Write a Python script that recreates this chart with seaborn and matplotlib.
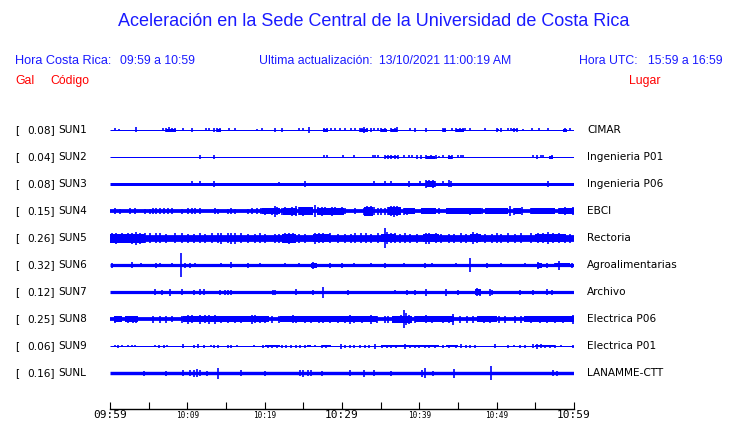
import matplotlib
matplotlib.use("Agg")
import matplotlib.pyplot as plt
import seaborn as sns
import pandas as pd

# ---------------- data ----------------
title = "Aceleración en la Sede Central de la Universidad de Costa Rica"
codes = ["SUN1", "SUN2", "SUN3", "SUN4", "SUN5", "SUN6", "SUN7", "SUN8", "SUN9", "SUNL"]
gals = ["0.08", "0.04", "0.08", "0.15", "0.26", "0.32", "0.12", "0.25", "0.06", "0.16"]
places = ["CIMAR", "Ingenieria P01", "Ingenieria P06", "EBCI", "Rectoria",
          "Agroalimentarias", "Archivo", "Electrica P06", "Electrica P01", "LANAMME-CTT"]
tick_minutes = [0, 5, 10, 15, 20, 25, 30, 35, 40, 45, 50, 55, 60]
tick_labels = ["09:59", "", "10:09", "", "10:19", "", "10:29", "", "10:39", "", "10:49", "", "10:59"]
big_labels = ["09:59", "10:29", "10:59"]

# base half-thickness of each trace (px)
base_amp = [0.5, 0.5, 1.5, 1.9, 3.4, 1.6, 1.6, 1.9, 0.5, 1.7]

# spikes: (minute, half amplitude px)
spikes_sun1 = [(0.7,1.5),(1.2,1),(3.4,2.5),(6.8,1.5),(7.3,2),(7.6,2.5),(8.0,2),(8.4,2),(9.5,1.5),(10.6,2),(12.4,1.5),(12.8,1.5),(13.4,2),(13.9,2),(14.2,2),(15.4,1.5),(16.2,1.5),(19.0,1),(19.7,1.5),(21.3,2),(22.2,2),(24.5,1.5),(25.0,1.5),(25.7,3),(27.7,2),(28.1,2),(28.6,1.5),(29.1,1.5),(29.7,1.5),(30.4,1.5),(31.1,1.5),(31.7,1.5),(32.3,2),(32.6,2),(32.9,3),(33.2,2),(33.7,2),(34.1,1.5),(34.7,1.5),(35.1,2),(35.5,2),(36.4,2),(36.8,2),(37.1,2.5),(38.8,1.5),(39.4,2),(40.9,2),(43.1,2),(43.3,2),(44.2,1.5),(44.8,2),(45.2,2),(45.6,2),(45.9,1.5),(46.5,1.5),(48.5,1.5),(50.0,2),(50.6,2),(51.5,1.5),(51.9,1.5),(52.2,2),(52.6,2),(53.4,1),(54.6,1.5),(55.5,1.5),(56.7,1.5),(58.8,2),(59.5,1.5)]
spikes_sun2 = [(11.6,2),(13.4,2),(27.7,1.5),(28.1,1.5),(30.1,1.5),(31.5,1.5),(34.0,1.5),(34.3,1.5),(34.6,1.5),(35.6,2),(36.0,2),(36.4,2),(36.9,2),(37.3,2),(38.0,1.5),(38.7,1.5),(39.0,1.5),(39.7,2),(40.2,2),(40.9,2),(41.5,2),(42.1,2),(42.5,1),(43.1,1.5),(43.8,2),(44.2,2),(45.0,1.5),(45.4,1.5),(45.7,1.5),(54.7,1.5),(55.2,2),(55.7,1.5),(56.0,1.5),(57.1,2)]
spikes_sun3 = [(10.6,2.5),(11.6,2.5),(13.4,3),(21.9,2.2),(25.2,3),(34.2,2.5),(35.6,2.5),(36.4,2.5),(38.7,3),(40.1,2.5),(40.9,4),(41.3,3.5),(41.8,4),(42.0,3),(43.1,2.5),(43.8,3.5),(44.1,3),(56.6,3)]
spikes_sun4 = [(0.6,3),(1.3,2.5),(2.6,3),(3.2,3),(4.5,2.5),(5.2,2.5),(5.6,3),(6.0,3),(6.5,3),(7.0,3),(7.5,3),(8.0,3),(9.3,2.5),(10.1,3),(10.6,3),(11.0,3),(11.6,3),(13.6,3),(14.0,2.5),(15.3,2.5),(15.7,3),(16.2,2.5),(17.9,2.5),(18.3,3),(19.0,3),(19.5,3),(20.0,3.5),(20.5,3),(20.9,3.5),(21.3,5.5),(21.6,4),(22.2,3.5),(22.6,4),(23.1,3.5),(23.5,4.5),(24.0,5),(24.5,4),(25.0,4.5),(25.4,4),(25.9,3.5),(26.5,6),(26.9,4),(27.4,4.5),(27.8,4),(28.4,3.5),(28.7,4.5),(29.1,4),(29.5,3.5),(30.0,4),(30.4,3),(31.7,3),(32.8,3.5),(33.2,5),(33.5,4.5),(33.8,5),(34.2,4),(34.7,3.5),(35.1,3.5),(35.5,3.5),(36.0,4),(36.4,5),(36.7,5.5),(37.1,5),(37.5,4),(38.0,3.5),(38.4,3.5),(38.8,3),(40.3,2.5),(40.9,3),(41.5,3),(42.0,3),(42.5,3),(44.2,3),(44.8,3),(45.4,3),(45.9,3),(46.5,3.5),(47.0,3),(48.1,3),(48.7,3),(49.4,3),(50.0,3),(50.6,3),(51.1,3),(51.7,5),(52.2,3.5),(52.8,3),(53.3,4),(54.5,3),(55.2,3),(55.7,3),(56.5,3),(57.3,3),(58.0,3),(58.8,4),(59.5,3),(59.9,4)]
spikes_sun5 = [(0.2,5),(0.8,5.5),(1.5,5),(2.3,5),(2.9,5.5),(3.4,6.5),(3.9,5.5),(4.5,5),(5.2,5),(6.0,5),(6.5,5),(7.3,4.5),(8.4,5),(9.3,5),(10.1,4.5),(10.8,4.5),(11.6,5),(12.3,4.5),(13.2,5),(14.0,5),(14.4,5.5),(15.3,5),(15.7,5.5),(16.2,5.5),(17.0,5),(17.9,4.5),(18.8,4.5),(19.4,5),(20.0,4.5),(21.3,4.5),(21.9,4.5),(22.6,5),(23.1,5.5),(23.6,5),(24.5,4.5),(25.2,4.5),(26.5,5.5),(27.0,5),(27.6,5),(28.4,5),(29.5,4.5),(30.4,4.5),(31.1,4.5),(31.7,5),(32.5,5),(33.1,5),(33.8,4.5),(34.6,5),(35.5,10),(35.8,6),(36.4,5),(36.9,5),(37.5,4.5),(38.1,5),(38.8,4.5),(39.7,4.5),(40.9,5.5),(41.2,5.5),(42.1,5),(42.8,4.5),(43.8,4.5),(44.5,4.5),(45.4,5),(46.0,4.5),(47.0,6),(47.5,5),(48.5,4.5),(49.4,4.5),(50.0,5),(50.6,4.5),(51.5,5),(52.4,4.5),(53.2,5),(54.5,5),(55.3,5),(56.0,5),(56.7,6),(57.3,5),(58.0,5),(58.8,4.5),(59.5,4.5)]
spikes_sun6 = [(0.2,2.5),(2.8,3),(4.0,2),(6.0,2.5),(6.5,2),(8.0,2),(9.2,11.7),(9.7,2.5),(10.4,2.5),(11.0,2),(14.4,2),(15.7,3),(17.9,2.5),(19.4,2),(22.6,2),(24.5,2),(26.3,3.5),(28.4,2.5),(30.0,2.5),(31.5,2),(33.7,2),(35.6,2.5),(38.0,2),(40.7,2.5),(41.6,2),(44.8,2),(46.6,6.7),(48.7,2.5),(50.6,2),(53.6,2),(55.4,3.5),(56.5,2.5),(57.5,2),(58.0,4.5),(59.7,2.5)]
spikes_sun7 = [(5.8,3),(6.7,2.5),(7.8,3.5),(9.3,3),(10.8,2.5),(11.6,3),(12.1,3),(14.2,2.5),(14.9,2.5),(15.3,2.5),(15.7,2.5),(21.1,2.5),(21.4,2.5),(24.0,3),(26.3,2.5),(27.6,5.5),(30.8,2.5),(36.9,2),(38.4,2.5),(39.4,2.5),(40.8,3.5),(43.4,3.5),(45.0,2.5),(47.4,4),(47.8,3.5),(49.1,3.5),(49.4,2.5),(53.0,2.5),(54.7,2.5),(56.5,3),(57.1,2.5)]
spikes_sun8 = [(0.6,3.5),(1.3,3),(2.3,3.5),(3.0,3.5),(3.4,3.5),(5.6,3.5),(6.5,3.5),(7.3,3.5),(8.0,3),(9.3,3.5),(10.1,4.5),(10.6,4),(11.6,4.5),(12.3,4),(12.8,4.5),(13.6,4.5),(14.4,3.5),(15.3,3.5),(16.2,3.5),(17.0,3.5),(18.3,4.5),(18.8,4),(19.4,3.5),(20.0,3.5),(20.9,3.5),(21.8,3.5),(23.6,4),(24.0,3.5),(25.2,3.5),(26.0,3.5),(27.0,3.5),(27.6,3.5),(28.4,3.5),(29.5,3.5),(30.4,3.5),(31.0,4.5),(31.5,3.5),(32.6,3.5),(33.8,4.5),(34.5,3.5),(35.5,3.5),(36.0,3.5),(36.9,3.5),(37.6,4),(38.0,9.3),(38.3,6),(38.7,4.5),(39.4,3.5),(40.9,4),(41.6,3.5),(43.1,3.5),(43.8,3.5),(44.4,5.5),(45.2,3.5),(46.2,3.5),(47.0,3.5),(48.3,3.5),(49.1,3.5),(50.3,3.5),(51.1,3.5),(52.4,3.5),(53.2,3.5),(54.5,3.5),(55.6,3.5),(56.5,3.5),(57.5,3.5),(58.6,3.5),(59.9,4.5)]
spikes_sun9 = [(0.6,1),(1.0,1.5),(1.5,1),(2.3,1),(2.8,1),(3.2,1),(5.8,1),(6.3,1.5),(7.0,1.5),(7.4,1),(9.5,2),(10.8,1.5),(11.4,2),(12.2,1.5),(13.0,1),(13.4,1.5),(14.0,1.5),(15.3,1.5),(15.7,1.5),(16.4,1),(18.6,1),(19.8,1.5),(20.4,1.5),(21.0,1.5),(21.6,1.5),(22.2,1.5),(22.8,1.5),(23.4,1.5),(24.0,1.5),(24.6,1.5),(25.2,1.5),(26.5,1),(27.4,1.5),(27.9,1.5),(29.9,2.5),(30.4,1.5),(31.0,1.5),(31.5,1.5),(32.3,1.5),(33.0,1.5),(33.5,1.5),(34.3,2.5),(35.2,1.5),(35.8,1.5),(36.4,1.5),(37.0,1.5),(38.1,2.5),(38.8,1.5),(39.4,1.5),(40.0,1.5),(40.7,1.5),(41.3,1.5),(42.0,1.5),(43.0,1.5),(43.8,1.5),(44.8,1.5),(45.4,2),(46.0,1.5),(46.6,1.5),(47.2,1.5),(49.8,2),(51.5,1.5),(52.2,1),(53.0,1.5),(53.6,1.5),(54.7,2),(55.2,2.5),(55.7,2),(56.3,1.5),(56.9,1.5),(57.5,1.5),(58.3,1),(59.9,1.5)]
spikes_sunl = [(4.4,2.5),(7.2,2.5),(9.4,3),(10.3,3),(10.8,3.5),(11.2,4),(11.6,3),(12.6,2.5),(14.0,5.5),(17.0,3),(20.0,2.5),(24.6,3),(25.0,3.5),(25.6,3),(26.0,3),(27.4,2.5),(31.0,3),(32.8,3.5),(34.1,3),(36.4,2.5),(40.3,3.5),(40.7,5),(41.8,2.5),(44.5,4.5),(49.3,6.8),(57.3,3),(57.8,2.5)]

# bursts: (start minute, end minute, half amplitude px)
bursts_sun1 = [(7.2,8.5,1.5),(13.8,14.4,1.5),(27.6,28.2,1.5),(32.3,33.3,1.5),(35.0,35.8,1.5),(36.3,37.1,1.5),(43.0,43.5,1.5),(44.8,45.8,1.5),(50.0,50.3,1.2),(52.0,52.8,1.2),(58.6,59.1,1.5)]
bursts_sun2 = [(35.6,37.3,1.3),(40.9,42.0,1.5),(43.7,44.2,1.5),(56.8,57.3,1.5)]
bursts_sun3 = [(40.9,42.0,3)]
bursts_sun4 = [(19.6,22.0,3),(22.4,24.2,3.5),(24.5,26.2,3.8),(26.8,30.2,3.5),(32.8,34.0,4.5),(35.9,37.6,4),(38.0,39.4,3),(40.2,42.2,2.8),(43.5,48.0,2.8),(48.5,51.5,2.6),(52.3,53.2,2.8),(54.5,57.5,2.6),(58.0,60,2.6)]
bursts_sun5 = [(0,4.5,4.5),(22.3,24.0,4.5),(26.2,28.5,4.2),(35.0,37.0,4.2),(40.5,42.5,4.2),(46.5,48.0,4.2),(55.0,59.0,4.2)]
bursts_sun6 = [(26.0,26.8,2.5),(55.2,55.8,2.5),(57.5,59.5,2.2)]
bursts_sun7 = [(47.2,48.0,3)]
bursts_sun8 = [(0.5,1.5,3),(2.0,3.6,3),(9.5,20.5,3),(22.0,34.5,3),(36.5,39.0,3.5),(39.5,44.5,2.8),(47.5,50,2.8),(53.5,60,2.8)]
bursts_sun9 = [(20.0,22.0,1.2),(25.5,26.0,1.2),(27.4,28.6,1.2),(35.0,42.5,1.2),(43.5,45.0,1.2),(55.0,57.5,1.2)]
bursts_sunl = []

all_spikes = [spikes_sun1, spikes_sun2, spikes_sun3, spikes_sun4, spikes_sun5,
              spikes_sun6, spikes_sun7, spikes_sun8, spikes_sun9, spikes_sunl]
all_bursts = [bursts_sun1, bursts_sun2, bursts_sun3, bursts_sun4, bursts_sun5,
              bursts_sun6, bursts_sun7, bursts_sun8, bursts_sun9, bursts_sunl]

# ---------------- style ----------------
sns.set_theme(style="white")
plt.rcParams["font.family"] = ["DejaVu Sans"]
BLUE = "#0000ff"
TXT_BLUE = "#1a1aff"
RED = "#ff0000"
W, H = 740, 423

fig = plt.figure(figsize=(W / 100, H / 100), dpi=100)
fig.patch.set_facecolor("white")

def fx(px):
    return px / W

def fy(py):
    return 1 - py / H

ax = fig.add_axes([fx(110), fy(409), fx(574) - fx(110), fy(110) - fy(409)])
ax.set_facecolor("white")
ax.set_xlim(tick_minutes[0], tick_minutes[-1])
ax.set_ylim(409, 110)  # y units = pixels, downward

PX2PT = 0.72
for i, code in enumerate(codes):
    c = 130 + 27 * i
    b = base_amp[i]
    base_df = pd.DataFrame({"minute": [tick_minutes[0], tick_minutes[-1]], "y": [c, c]})
    sns.lineplot(data=base_df, x="minute", y="y", ax=ax, color=BLUE,
                 linewidth=max(2 * b, 1.0) * PX2PT, solid_capstyle="butt")
    for (s, e, a) in all_bursts[i]:
        ax.fill_between([s, e], [c - a, c - a], [c + a, c + a], color=BLUE, lw=0)
    sp = all_spikes[i]
    if sp:
        ms = [p[0] for p in sp]
        amps = [p[1] for p in sp]
        ax.vlines(ms, [c - a for a in amps], [c + a for a in amps], color=BLUE, lw=1.2)

    # labels
    fig.text(fx(15), fy(c), "[", fontsize=7.6, color="black", va="center", ha="left")
    fig.text(fx(55), fy(c), gals[i] + "]", fontsize=7.6, color="black", va="center", ha="right")
    fig.text(fx(58), fy(c), code, fontsize=7.6, color="black", va="center", ha="left")
    fig.text(fx(587), fy(c), places[i], fontsize=7.6, color="black", va="center", ha="left")

ax.set_ylabel("")
ax.set_xlabel("")
ax.set_yticks([])
for side in ["top", "left", "right"]:
    ax.spines[side].set_visible(False)
ax.spines["bottom"].set_color("black")
ax.spines["bottom"].set_linewidth(1.0)
ax.set_xticks(tick_minutes)
ax.set_xticklabels(tick_labels)
ax.tick_params(axis="x", direction="in", length=5.2, width=0.8, color="black", pad=0.8,
               bottom=True)
for lab in ax.get_xticklabels():
    lab.set_family("DejaVu Sans Mono")
    if lab.get_text() in big_labels:
        lab.set_fontsize(8.0)
    else:
        lab.set_fontsize(5.6)
        lab.set_y(-0.004)
    lab.set_color("black")

# ---------------- header ----------------
hdr = dict(family=["Liberation Sans", "DejaVu Sans"], va="center", ha="left")
HS = 8.8
fig.text(fx(374), fy(22), title, fontsize=13, color=TXT_BLUE,
         family=["Liberation Sans", "DejaVu Sans"], va="center", ha="center")
fig.text(fx(15), fy(61), "Hora Costa Rica:", fontsize=9.2, color=TXT_BLUE, **hdr)
fig.text(fx(120), fy(61), "09:59 a 10:59", fontsize=HS, color=TXT_BLUE, **hdr)
fig.text(fx(259), fy(61), "Ultima actualización:", fontsize=HS, color=TXT_BLUE, **hdr)
fig.text(fx(379), fy(61), "13/10/2021 11:00:19 AM", fontsize=HS, color=TXT_BLUE, **hdr)
fig.text(fx(579), fy(61), "Hora UTC:", fontsize=HS, color=TXT_BLUE, **hdr)
fig.text(fx(648), fy(61), "15:59 a 16:59", fontsize=HS, color=TXT_BLUE, **hdr)
fig.text(fx(15), fy(81), "Gal", fontsize=HS, color=RED, **hdr)
fig.text(fx(50), fy(81), "Código", fontsize=HS, color=RED, **hdr)
fig.text(fx(629), fy(81), "Lugar", fontsize=HS, color=RED, **hdr)

fig.savefig("out.png", dpi=100, facecolor="white")
